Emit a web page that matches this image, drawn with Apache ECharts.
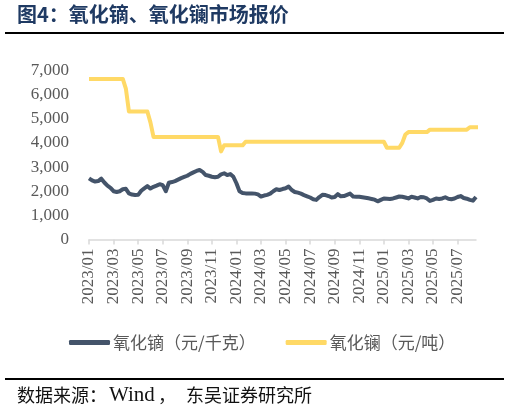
<!DOCTYPE html>
<html><head><meta charset="utf-8">
<script src="https://cdn.jsdelivr.net/npm/echarts@6/dist/echarts.min.js"></script>
<style>html,body{margin:0;padding:0;background:#fff}#c{width:510px;height:411px}</style>
</head><body><div id="c"></div>
<script>
// Months covered by the data (weekly points, 4 per month; last month has 3)
const months = ['2023/01','2023/02','2023/03','2023/04','2023/05','2023/06','2023/07','2023/08','2023/09','2023/10','2023/11','2023/12',
  '2024/01','2024/02','2024/03','2024/04','2024/05','2024/06','2024/07','2024/08','2024/09','2024/10','2024/11','2024/12',
  '2025/01','2025/02','2025/03','2025/04','2025/05','2025/06','2025/07','2025/08'];
const tickLabels = ['2023/01','2023/03','2023/05','2023/07','2023/09','2023/11','2024/01','2024/03','2024/05','2024/07','2024/09','2024/11','2025/01','2025/03','2025/05','2025/07'];
const seriesNames = ['氧化镝（元/千克）','氧化镧（元/吨）'];

// 氧化镝 (元/千克), weekly
const dyOxide = [2535,2450,2400,2420,2520,2360,2230,2140,2000,1970,2000,2080,2100,1910,1860,1840,
  1850,2020,2120,2210,2110,2180,2230,2290,2250,2000,2350,2380,2420,2480,2540,2590,
  2640,2720,2780,2840,2880,2800,2670,2640,2600,2580,2600,2700,2740,2670,2710,2600,
  2330,2000,1930,1910,1910,1910,1900,1870,1780,1820,1850,1900,2000,2080,2050,2090,
  2120,2190,2050,1970,1940,1900,1840,1790,1740,1670,1640,1760,1850,1840,1800,1740,
  1760,1880,1790,1800,1850,1900,1780,1775,1770,1750,1730,1705,1680,1650,1580,1640,
  1700,1690,1680,1700,1740,1780,1770,1740,1700,1770,1740,1700,1760,1750,1700,1600,
  1640,1700,1680,1700,1750,1690,1670,1700,1760,1800,1720,1690,1640,1610,1760];

// 氧化镧 (元/吨), weekly
const laOxide = [6650,6650,6650,6650,6650,6650,6650,6650,6650,6650,6650,6650,6250,5300,5300,5300,
  5300,5300,5300,5300,4850,4250,4250,4250,4250,4250,4250,4250,4250,4250,4250,4250,
  4250,4250,4250,4250,4250,4250,4250,4250,4250,4250,4250,3650,3900,3900,3900,3900,
  3900,3900,3900,4050,4050,4050,4050,4050,4050,4050,4050,4050,4050,4050,4050,4050,
  4050,4050,4050,4050,4050,4050,4050,4050,4050,4050,4050,4050,4050,4050,4050,4050,
  4050,4050,4050,4050,4050,4050,4050,4050,4050,4050,4050,4050,4050,4050,4050,4050,
  4050,3800,3800,3800,3800,3800,4000,4350,4450,4450,4450,4450,4450,4450,4450,4550,
  4550,4550,4550,4550,4550,4550,4550,4550,4550,4550,4550,4550,4650,4650,4650,4650];

const categories = [];
months.forEach((m, mi) => {
  const n = mi === months.length - 1 ? 3 : 4;
  for (let w = 1; w <= n; w++) categories.push(m + '-W' + w);
});
const isTick = (idx) => {
  const c = categories[idx];
  return c.endsWith('-W1') && tickLabels.indexOf(c.slice(0, 7)) >= 0;
};

const chart = echarts.init(document.getElementById('c'), null, {renderer: 'canvas'});
const serif = '"Liberation Serif","Times New Roman",serif';
const cjk = '"Noto Sans CJK SC",sans-serif';
chart.setOption({
  animation: false,
  backgroundColor: '#fff',
  grid: {left: 89, right: 34, top: 70.5, bottom: 171.5, containLabel: false},
  xAxis: {
    type: 'category', data: categories, boundaryGap: false,
    axisLine: {lineStyle: {color: '#d9d9d9', width: 1.5}},
    axisTick: {show: true, length: 5, interval: (i) => isTick(i), lineStyle: {color: '#d9d9d9', width: 1.5}},
    axisLabel: {rotate: 90, margin: 9, interval: (i) => isTick(i), color: '#595959', fontFamily: serif, fontSize: 17,
      formatter: (v) => v.slice(0, 7)},
    splitLine: {show: false}
  },
  yAxis: {
    type: 'value', min: 0, max: 7000, interval: 1000,
    axisLine: {show: false}, axisTick: {show: false}, splitLine: {show: false},
    axisLabel: {margin: 20, color: '#595959', fontFamily: serif, fontSize: 17,
      formatter: (v) => v.toLocaleString('en-US')}
  },
  legend: {
    left: 64, top: 329, itemWidth: 41, itemHeight: 5, itemGap: 30,
    icon: 'roundRect',
    textStyle: {color: '#595959', fontFamily: cjk, fontSize: 17, padding: [0, 0, 0, -2]},
    data: seriesNames
  },
  series: [
    {name: seriesNames[0], type: 'line', data: dyOxide, showSymbol: false, symbol: 'none',
      lineStyle: {color: '#44546A', width: 4, join: 'round'}, itemStyle: {color: '#44546A'}, z: 3},
    {name: seriesNames[1], type: 'line', data: laOxide, showSymbol: false, symbol: 'none',
      lineStyle: {color: '#FFD966', width: 4, join: 'round'}, itemStyle: {color: '#FFD966'}, z: 2}
  ],
  graphic: [
    {type: 'text', left: 17, top: 4, style: {text: '图4：氧化镝、氧化镧市场报价', fill: '#1f3a63',
      font: 'bold 20px "Noto Sans CJK SC", sans-serif'}},
    {type: 'rect', shape: {x: 5, y: 32, width: 499, height: 2}, style: {fill: '#000'}},
    {type: 'rect', shape: {x: 5, y: 378, width: 499, height: 2}, style: {fill: '#000'}},
    {type: 'text', left: 17, top: 386, style: {text: '数据来源：', fill: '#111',
      font: '18px "Noto Sans CJK SC", sans-serif'}},
    {type: 'text', left: 109, top: 385, style: {text: 'Wind', fill: '#111',
      font: '21px "Liberation Serif", serif'}},
    {type: 'text', left: 158, top: 386, style: {text: '，', fill: '#111',
      font: '18px "Noto Sans CJK SC", sans-serif'}},
    {type: 'text', left: 186, top: 386, style: {text: '东吴证券研究所', fill: '#111',
      font: '18px "Noto Sans CJK SC", sans-serif'}}
  ]
});
</script></body></html>
